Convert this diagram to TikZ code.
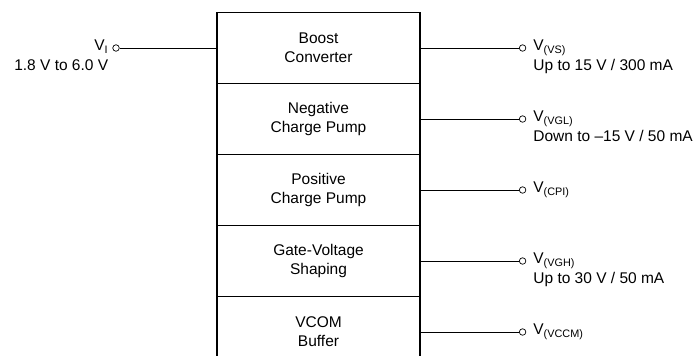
\documentclass[tikz,border=0pt]{standalone}
\usepackage{fontspec}
\setmainfont{Liberation Sans}
\usepackage{tikz}
\usetikzlibrary{positioning}
\newcommand{\vname}[1]{V\textsubscript{(#1)}}%  \vname{VS}

\tikzset{
  block/.style={draw, line width=1.2pt, outer sep=0pt, inner sep=0pt,
    minimum width=203pt, minimum height=71pt, align=center,
    font=\fontsize{15.5}{19}\selectfont},
  pin/.style={circle, draw, fill=white, line width=0.7pt,
    minimum size=6.5pt, inner sep=0pt},
  wire/.style={line width=0.7pt},
  lbl/.style={inner sep=0pt, font=\fontsize{15.5}{19}\selectfont}
}

\begin{document}
\begin{tikzpicture}[x=1pt, y=-1pt]
        \useasboundingbox (0,0) rectangle (694,356);
        \clip (0,0) rectangle (694,356);
        % Stack of blocks
        \node[block] (boost) at (318.5,48) {Boost\\Converter};
        \node[block, below=0pt of boost] (neg) {Negative\\Charge Pump};
        \node[block, below=0pt of neg] (pos) {Positive\\Charge Pump};
        \node[block, below=0pt of pos] (gate) {Gate-Voltage\\Shaping};
        \node[block, below=0pt of gate] (vcom) {VCOM\\Buffer};
        % Input
        \node[pin] (vi) at (116,48) {};
        \draw[wire] (vi) -- (boost.west);
        \node[lbl, anchor=base east] (vil) at ([xshift=-4pt, yshift=-2.5pt]vi.west)
              {V\textsubscript{I}};
        \node[lbl, anchor=base east] (vir) at ([yshift=-20pt]vil.base east)
              {1.8 V to 6.0 V};
        % Outputs
        \foreach \b/\p in {boost/vs, neg/vgl, pos/cpi, gate/vgh, vcom/vccm}{
          \node[pin, right=99pt of \b.east] (\p) {};
          \draw[wire] (\b.east) -- (\p);
        }
        \node[lbl, anchor=base west] (vsl) at ([xshift=7pt, yshift=-2.5pt]vs.east)
              {\vname{VS}};
        \node[lbl, anchor=base west] (vsr) at ([yshift=-20pt]vsl.base west)
              {Up to 15 V / 300 mA};
        \node[lbl, anchor=base west] (vgll) at ([xshift=7pt, yshift=-2.5pt]vgl.east)
              {\vname{VGL}};
        \node[lbl, anchor=base west] (vglr) at ([yshift=-20pt]vgll.base west)
              {Down to \textendash15 V / 50 mA};
        \node[lbl, anchor=base west] (cpil) at ([xshift=7pt, yshift=-2.5pt]cpi.east)
              {\vname{CPI}};
        \node[lbl, anchor=base west] (vghl) at ([xshift=7pt, yshift=-2.5pt]vgh.east)
              {\vname{VGH}};
        \node[lbl, anchor=base west] (vghr) at ([yshift=-20pt]vghl.base west)
              {Up to 30 V / 50 mA};
        \node[lbl, anchor=base west] (vccml) at ([xshift=7pt, yshift=-2.5pt]vccm.east)
              {\vname{VCCM}};
\end{tikzpicture}
\end{document}
